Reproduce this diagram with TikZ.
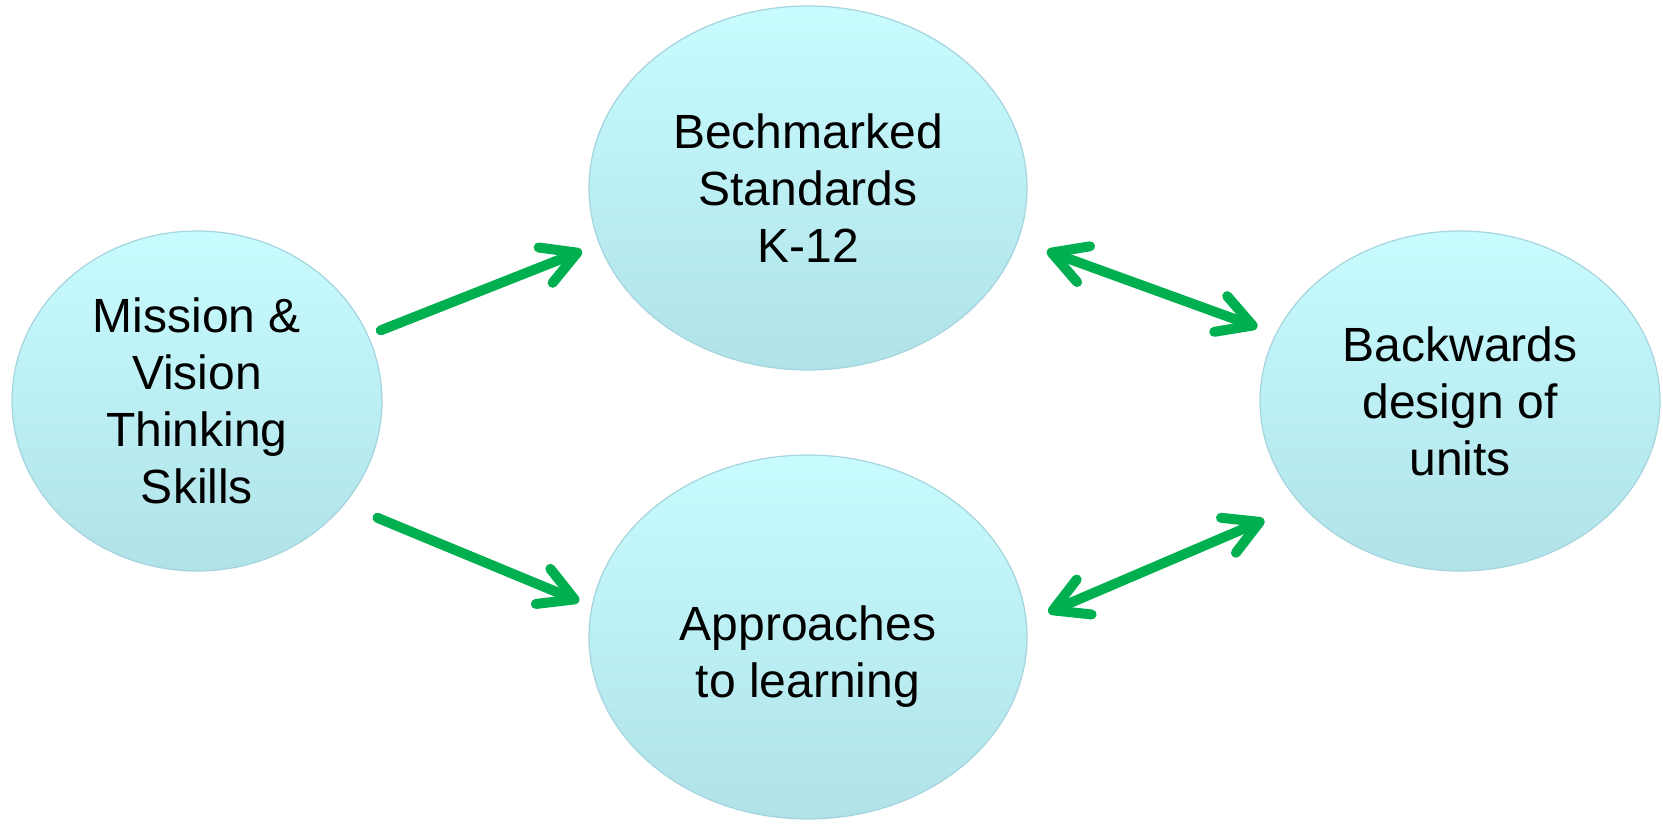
\documentclass[tikz,border=0pt]{standalone}
\usepackage{fontspec}
\setmainfont{Liberation Sans}
\usetikzlibrary{shapes.geometric, arrows.meta}
\definecolor{bubbletop}{RGB}{200,252,255}
\definecolor{bubblebottom}{RGB}{176,226,232}
\definecolor{bubbleedge}{RGB}{165,212,222}
\definecolor{arrowgreen}{RGB}{0,176,80}

\begin{document}
\begin{tikzpicture}[
    x=0.5pt, y=-0.5pt,
    bubble/.style={ellipse, draw=bubbleedge, line width=0.6pt, top color=bubbletop, bottom color=bubblebottom, inner sep=0pt, outer sep=0pt, align=center, font=\fontsize{24}{28.5}\selectfont},
    line/.style={draw=arrowgreen, line width=5pt, line cap=round, -{Straight Barb[round, length=17pt, width=19pt]}},
    both/.style={line, {Straight Barb[round, length=17pt, width=19pt]}-{Straight Barb[round, length=17pt, width=19pt]}}
]
    \useasboundingbox (0,0) rectangle (1663,825);

    % Nodes
    \node (mission) [bubble, minimum width=185pt, minimum height=170pt] at (197,401) {Mission \&\\ Vision\\ Thinking\\ Skills};
    \node (standards) [bubble, minimum width=219pt, minimum height=182pt] at (808,188) {Bechmarked\\ Standards\\ K-12};
    \node (approaches) [bubble, minimum width=219pt, minimum height=182pt] at (808,637) {\raisebox{-16.5pt}[0pt][0pt]{\begin{tabular}{@{}c@{}}Approaches\\ to learning\end{tabular}}};
    \node (backwards) [bubble, minimum width=200pt, minimum height=170pt] at (1460,401) {Backwards\\ design of\\ units};

    % Paths
    \path [line, shorten <=7pt, shorten >=9.5pt] (mission.21) -- (standards.195);
    \path [line, shorten <=18pt, shorten >=7pt] (mission.325) -- (approaches.172);
    \path [both, shorten <=15.5pt, shorten >=10pt] (standards.346) -- (backwards.160);
    \path [both, shorten <=12pt, shorten >=20pt] (approaches.4) -- (backwards.213);
\end{tikzpicture}
\end{document}
